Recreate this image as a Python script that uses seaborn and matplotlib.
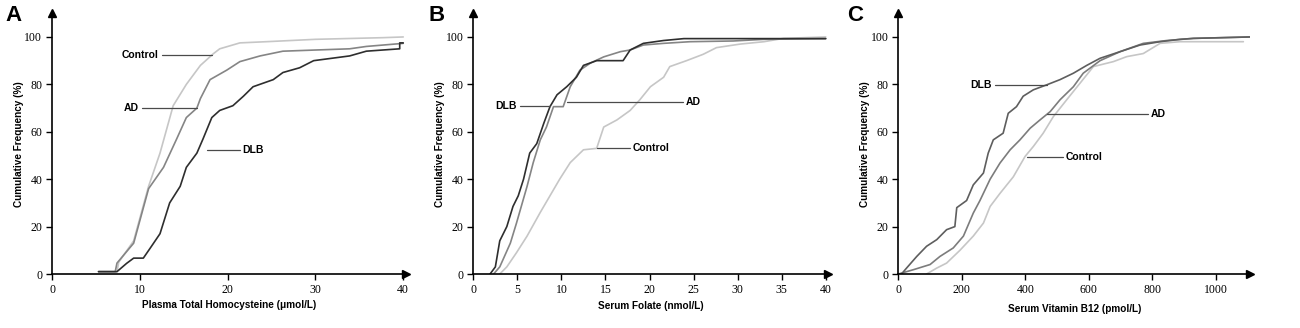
import matplotlib
matplotlib.use("Agg")
import matplotlib.pyplot as plt
import seaborn as sns

sns.set_style("ticks")
plt.rcParams["font.family"] = ["Liberation Sans", "DejaVu Sans"]
plt.rcParams["text.color"] = "black"
plt.rcParams["axes.labelcolor"] = "black"

# ---- data (x value, cumulative %) ----
# A: plasma total homocysteine (umol/L)
hcy_ctrl_x = [5.3, 7.4, 7.6, 9.3, 11.0, 12.3, 13.8, 15.3, 16.9, 18.4, 19.1, 21.4, 24.4, 30.0, 37.7, 40.0]
hcy_ctrl_y = [1, 1, 5, 14, 37, 51, 71, 80, 88, 93, 95, 97.5, 98, 99, 99.7, 100]
hcy_ad_x = [5.3, 7.2, 7.4, 9.3, 11.0, 12.7, 14.2, 15.3, 16.5, 16.9, 18.0, 19.9, 21.4, 23.7, 26.3, 33.9, 35.8, 40.0]
hcy_ad_y = [1, 1, 4.6, 13, 36, 45, 57, 66, 70, 74, 82, 86, 89.6, 92, 94, 95, 96, 97.3]
hcy_dlb_x = [5.3, 7.4, 8.5, 9.3, 10.4, 11.2, 12.3, 13.4, 14.6, 15.3, 16.5, 17.2, 18.2, 19.1, 20.6,
             21.8, 22.9, 25.2, 26.3, 28.2, 29.8, 33.9, 35.8, 39.6, 39.6, 40.0]
hcy_dlb_y = [1, 1, 4.5, 6.7, 6.7, 11, 17, 30, 37, 45, 51, 57, 66, 69, 71,
             75, 79, 82, 85, 87, 90, 92, 94, 95, 97.5, 97.5]

# B: serum folate (nmol/L)
fol_dlb_x = [1.9, 2.5, 3.0, 3.8, 4.5, 5.1, 5.7, 6.4, 7.2, 8.0, 8.7, 9.5, 10.6, 11.7, 12.5, 14.0,
             17.0, 17.8, 19.3, 21.6, 23.9, 40.0]
fol_dlb_y = [0, 3, 14, 20, 28.5, 33, 40, 51, 55, 63.6, 70.6, 75.6, 79, 83, 88, 90,
             90, 94.5, 97.3, 98.5, 99.3, 99.3]
fol_ad_x = [2.3, 3.0, 4.2, 4.9, 6.1, 6.8, 7.6, 8.3, 9.1, 10.2, 11.0, 12.1, 13.3, 14.8, 16.7,
            17.8, 19.3, 21.6, 24.6, 29.5, 33.0, 40.0]
fol_ad_y = [0, 3, 13, 21.5, 37, 47, 56.6, 62, 70.6, 70.6, 79, 86, 89, 91.6, 93.8,
            94.5, 96.6, 97.3, 98, 98.3, 99, 99.3]
fol_ctrl_x = [3.0, 3.8, 4.9, 6.1, 7.6, 8.7, 9.8, 11.0, 12.5, 14.0, 14.8, 16.3, 17.8, 18.9, 20.1,
              21.6, 22.3, 24.2, 26.1, 27.6, 30.3, 33.0, 35.2, 40.0]
fol_ctrl_y = [0, 3, 9, 16, 26, 33, 40, 47, 52.4, 53, 62, 65, 69, 73.5, 79,
              83, 87.5, 90, 92.7, 95.5, 97, 98, 99.4, 100]

# C: serum vitamin B12 (pmol/L)
b12_dlb_x = [10, 26, 58, 89, 121, 152, 178, 184, 215, 236, 268, 283, 299, 330, 346, 372, 393,
             425, 467, 509, 551, 593, 635, 698, 761, 824, 887, 929, 1107]
b12_dlb_y = [0, 2.5, 7.4, 11.7, 14.5, 18.7, 20, 28, 31, 37.6, 42.6, 51, 56.6, 59.4, 67.8, 70.6, 75,
             77.7, 79.8, 82, 84.7, 88, 91, 93.8, 96.6, 98, 99, 99.4, 100]
b12_ad_x = [0, 47, 100, 131, 173, 205, 236, 257, 289, 320, 352, 383, 415, 446, 478, 509, 551,
            582, 635, 698, 771, 845, 929, 1107]
b12_ad_y = [0, 1.8, 4, 7.4, 11, 16, 25.7, 31, 40, 46.8, 52.4, 56.6, 61.5, 65, 68.5, 73.5, 79,
            84.7, 90, 93.8, 97.3, 98.5, 99.4, 100]
b12_ctrl_x = [89, 121, 152, 194, 236, 268, 289, 320, 362, 399, 425, 456, 488, 530, 572, 614,
              677, 719, 771, 824, 887, 1086]
b12_ctrl_y = [0, 2.5, 4.6, 10, 16, 21.5, 28.5, 34, 41, 49.6, 53.8, 59.4, 66.4, 73.5, 80.5, 87.5,
              89.6, 91.7, 93, 97.3, 98, 98]

y_ticks = [0, 20, 40, 60, 80, 100]

LIGHT = "#c6c6c6"
MID = "#858585"
DARK = "#2e2e2e"
POINTER = "#4a4a4a"

fig = plt.figure(figsize=(13, 3.28), dpi=100)

panels = [
    dict(letter="A", rect=[0.0400, 0.1646, 0.2722, 0.795], xlim=40.3, xticks=[0, 10, 20, 30, 40],
         xlabel="Plasma Total Homocysteine (\u03bcmol/L)", xpad=3,
         series=[(hcy_ctrl_x, hcy_ctrl_y, LIGHT), (hcy_ad_x, hcy_ad_y, MID), (hcy_dlb_x, hcy_dlb_y, DARK)],
         callouts=[("Control", 12.5, 18.2, 92.4, "right"),
                   ("AD", 10.25, 16.5, 70.0, "right"),
                   ("DLB", 17.6, 21.4, 52.2, "left")],
         letter_x=0.004),
    dict(letter="B", rect=[0.3641, 0.1646, 0.2731, 0.795], xlim=40.3, xticks=list(range(0, 41, 5)),
         xlabel="Serum Folate (nmol/L)", xpad=4,
         series=[(fol_ctrl_x, fol_ctrl_y, LIGHT), (fol_ad_x, fol_ad_y, MID), (fol_dlb_x, fol_dlb_y, DARK)],
         callouts=[("DLB", 5.3, 8.7, 70.9, "right"),
                   ("AD", 10.6, 23.8, 72.7, "left"),
                   ("Control", 14.0, 17.8, 53.0, "left")],
         letter_x=0.3300),
    dict(letter="C", rect=[0.6910, 0.1646, 0.2708, 0.795], xlim=1108, xticks=list(range(0, 1001, 200)),
         xlabel="Serum Vitamin B12 (pmol/L)", xpad=6,
         series=[(b12_ctrl_x, b12_ctrl_y, LIGHT), (b12_ad_x, b12_ad_y, "#7c7c7c"), (b12_dlb_x, b12_dlb_y, "#5e5e5e")],
         callouts=[("DLB", 304, 468, 79.7, "right"),
                   ("AD", 468, 786, 67.4, "left"),
                   ("Control", 405, 518, 49.2, "left")],
         letter_x=0.6515),
]

for p in panels:
    ax = fig.add_axes(p["rect"])
    for xs, ys, col in p["series"]:
        sns.lineplot(x=xs, y=ys, ax=ax, color=col, lw=1.2, estimator=None, sort=False)

    # callout lines with their group names
    xr = p["xlim"]
    for name, x1, x2, yv, side in p["callouts"]:
        ax.plot([x1, x2], [yv, yv], color=POINTER, lw=0.9)
        gap = xr * 0.008
        if side == "right":
            ax.text(x1 - gap, yv, name, ha="right", va="center", fontsize=7.5, fontweight="bold")
        else:
            ax.text(x2 + gap, yv, name, ha="left", va="center", fontsize=7.5, fontweight="bold")

    ax.set_xlim(0, xr)
    ax.set_ylim(0, 110)
    ax.set_xticks(p["xticks"])
    ax.set_yticks(y_ticks)
    for lab in ax.get_xticklabels() + ax.get_yticklabels():
        lab.set_fontfamily("Liberation Serif")
        lab.set_fontsize(8.5)
    ax.tick_params(direction="out", length=4, width=1, pad=3, colors="black")
    sns.despine(ax=ax)
    for s in ("left", "bottom"):
        ax.spines[s].set_linewidth(1.2)
        ax.spines[s].set_color("black")

    # arrow heads on both axes
    ax.plot(1, 0, ">", color="black", ms=6, transform=ax.get_yaxis_transform(), clip_on=False)
    ax.plot(0, 1, "^", color="black", ms=6, transform=ax.get_xaxis_transform(), clip_on=False)

    ax.set_xlabel(p["xlabel"], fontsize=7.2, fontweight="bold", labelpad=p["xpad"])
    ax.set_ylabel("Cumulative Frequency (%)", fontsize=7.2, fontweight="bold")
    ax.yaxis.set_label_coords(-0.08, 0.5)

    fig.text(p["letter_x"], 0.985, p["letter"], fontsize=16, fontweight="bold", va="top", ha="left")

fig.savefig("out.png", dpi=100, facecolor="white")
